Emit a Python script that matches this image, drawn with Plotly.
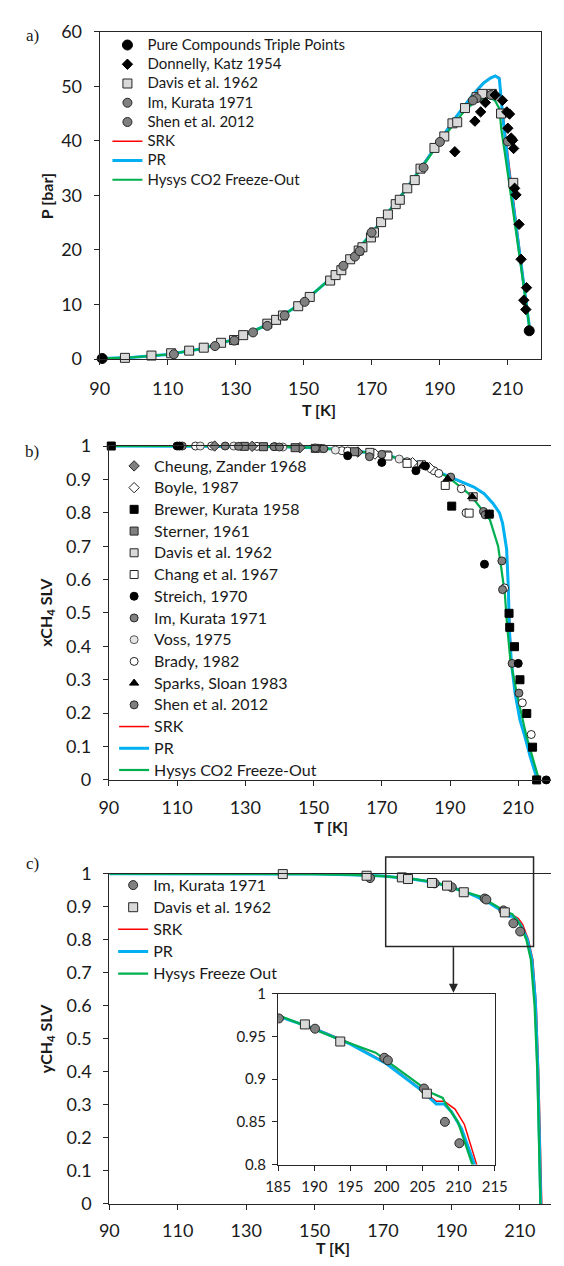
import plotly.graph_objects as go

W, H = 564, 1266
def fx(p): return p / W
def fy(p): return 1 - p / H

RED, BLUE, GREEN = "#FF0000", "#00B0F0", "#00B050"
EDGE = "#262626"
FONT = "Lato"

# ---------------- Panel a data: P [bar] vs T [K] ----------------
a_triple_T = [90.7, 216.4]
a_triple_P = [0.12, 5.2]
a_donnelly_T = [194.5, 200.4, 202.1, 203.5, 206.4, 208.5, 209.8, 210.6, 210.1, 211.1, 211.5, 211.8,
                212.1, 212.5, 213.4, 214.0, 215.6, 214.8, 215.4]
a_donnelly_P = [38.0, 43.6, 45.3, 47.0, 48.4, 47.4, 45.3, 44.9, 42.3, 40.5, 40.1, 38.6,
                31.3, 30.1, 24.7, 18.3, 13.1, 10.8, 9.1]
a_davis_T = [97.4, 105.2, 111.0, 116.3, 120.6, 125.7, 129.5, 132.2, 139.3, 141.9, 143.9, 148.4, 151.8,
             157.8, 159.4, 161.1, 163.7, 166.2, 167.3, 169.8, 170.7, 172.8, 174.8, 177.1, 178.3,
             180.5, 182.7, 184.4, 188.5, 191.4, 193.8, 195.2, 197.5, 200.9, 202.6, 205.4, 208.1, 211.7]
a_davis_P = [0.24, 0.66, 1.08, 1.56, 2.1, 3.0, 3.5, 4.4, 6.5, 7.2, 8.0, 9.7, 11.4,
             14.4, 15.4, 16.3, 18.3, 19.9, 20.5, 22.3, 23.2, 25.1, 26.5, 28.4, 29.2,
             31.3, 32.8, 34.9, 38.7, 40.8, 43.2, 43.4, 46.0, 48.0, 48.6, 48.6, 45.0, 32.3]
a_im_T = [129.6, 139.3, 150.3, 165.1, 170.0, 185.3, 190.1, 200.9, 205.2]
a_im_P = [3.4, 6.1, 10.5, 18.8, 23.2, 35.1, 39.8, 47.8, 48.4]
a_shen_T = [111.8, 123.9, 135.1, 144.4, 161.7, 166.5, 199.8, 210.1]
a_shen_P = [0.9, 2.4, 4.9, 8.0, 17.1, 19.8, 47.4, 39.9]

a_pr_T = [90.7, 100, 110, 120, 130, 140, 150, 160, 170, 175, 180, 185, 190, 195, 200, 203, 205,
          206.4, 207.6, 208.1, 208.6, 210.6, 213.5, 216.6]
a_pr_P = [0.12, 0.35, 0.85, 1.9, 3.7, 6.5, 10.5, 15.9, 23.0, 26.9, 31.0, 35.4, 40.0, 44.5, 48.6, 50.6, 51.5,
          51.9, 51.4, 48.0, 44.5, 33.4, 19.5, 5.2]
a_srk_T = a_pr_T
a_srk_P = [0.12, 0.35, 0.85, 1.9, 3.7, 6.5, 10.5, 15.9, 23.0, 26.9, 31.1, 35.5, 40.1, 44.6, 48.7, 50.7, 51.6,
           51.9, 51.6, 48.5, 45.5, 35.0, 21.0, 5.2]
a_hys_T = [90.7, 100, 110, 120, 130, 140, 150, 160, 170, 175, 180, 185, 190, 195, 197.5, 200, 202,
           203.9, 205.5, 206.4, 207.6, 208.2, 209.5, 213.5, 216.6]
a_hys_P = [0.12, 0.35, 0.85, 1.9, 3.7, 6.5, 10.5, 15.9, 23.0, 26.9, 31.0, 35.3, 39.7, 43.7, 45.6, 46.9, 47.6,
           47.9, 47.7, 47.3, 45.9, 42.0, 36.6, 19.0, 5.2]

# ---------------- Panel b data: xCH4 SLV vs T ----------------
b_cheung_T = [121.0, 132.0, 146.0, 163.0]
b_cheung_X = [1.0, 0.999, 0.995, 0.982]
b_boyle_T = [168.0, 179.0, 184.0]
b_boyle_X = [0.976, 0.950, 0.935]
b_brewer_T = [90.7, 190.5, 201.5, 207.3, 207.5, 208.9, 210.5, 212.5, 214.2, 215.4]
b_brewer_X = [1.0, 0.820, 0.796, 0.499, 0.457, 0.399, 0.300, 0.199, 0.098, 0.0]
b_sterner_T = [129.7, 135.3, 144.6, 150.5, 162.0]
b_sterner_X = [0.999, 0.998, 0.995, 0.993, 0.983]
b_davis_T = [166.5, 171.5, 181.6, 196.8]
b_davis_X = [0.981, 0.973, 0.944, 0.848]
b_chang_T = [171.8, 177.4, 188.6, 195.6]
b_chang_X = [0.970, 0.948, 0.882, 0.799]
b_streich_T = [110.0, 110.7, 160.0, 170.0, 180.0, 182.8, 200.1, 210.0, 218.2]
b_streich_X = [1.0, 1.0, 0.971, 0.951, 0.926, 0.940, 0.646, 0.349, 0.0]
b_im_T = [111.5, 124.1, 128.0, 138.4, 150.5, 166.4, 190.2, 199.8, 205.2, 205.4, 208.2]
b_im_X = [1.0, 1.0, 0.999, 0.998, 0.994, 0.968, 0.907, 0.804, 0.656, 0.570, 0.349]
b_voss_T = [116.8, 126.6, 141.0, 156.4, 175.1]
b_voss_X = [1.0, 1.0, 0.997, 0.988, 0.961]
b_brady_T = [115.4, 120.1, 133.4, 138.7, 152.2, 158.3, 160.0, 177.4, 185.3, 186.7, 193.3, 194.7,
             206.0, 211.2, 213.8]
b_brady_X = [1.0, 1.0, 0.999, 0.998, 0.993, 0.986, 0.985, 0.953, 0.926, 0.918, 0.872, 0.800,
             0.575, 0.231, 0.136]
b_sparks_T = [182.0, 189.3, 196.5, 201.5]
b_sparks_X = [0.942, 0.902, 0.848, 0.797]
b_shen_T = [140.0, 153.0, 170.0, 200.3, 210.2]
b_shen_X = [0.997, 0.992, 0.975, 0.794, 0.260]

b_pr_T = [90, 120, 140, 150, 160, 170, 180, 187.7, 193, 197, 200, 202.6, 204.5, 205.4, 206.6, 207.1,
          207.4, 208.0, 209.1, 210.5, 211.9, 213.5, 215.6]
b_pr_X = [1.0, 1.0, 0.998, 0.995, 0.988, 0.975, 0.952, 0.917, 0.895, 0.877, 0.857, 0.828, 0.800, 0.769,
          0.691, 0.573, 0.45, 0.35, 0.258, 0.18, 0.131, 0.07, 0.0]
b_srk_T = b_pr_T
b_srk_X = [1.0, 1.0, 0.998, 0.995, 0.988, 0.975, 0.952, 0.916, 0.894, 0.876, 0.856, 0.827, 0.799, 0.768,
           0.690, 0.572, 0.45, 0.35, 0.258, 0.18, 0.131, 0.07, 0.0]
b_hys_T = [90, 130, 150, 160, 170, 180, 189.5, 196, 201.7, 204.1, 205.2, 206.1, 206.8, 207.7, 209.6,
           212.4, 216.1]
b_hys_X = [1.0, 1.0, 0.995, 0.988, 0.975, 0.951, 0.907, 0.853, 0.779, 0.700, 0.622, 0.553, 0.455, 0.357,
           0.258, 0.131, 0.0]

# ---------------- Panel c data: yCH4 SLV vs T ----------------
c_im_T = [166.2, 185.1, 190.1, 199.7, 200.2, 205.2, 208.1, 210.1]
c_im_Y = [0.987, 0.971, 0.959, 0.925, 0.922, 0.889, 0.850, 0.825]
c_davis_T = [140.7, 165.2, 175.5, 177.3, 184.3, 188.7, 193.6, 205.6]
c_davis_Y = [0.999, 0.994, 0.989, 0.984, 0.972, 0.964, 0.944, 0.883]

c_pr_T = [90, 120, 140, 150, 160, 170, 178, 185, 190, 195, 200, 205, 206.9, 208, 209, 210.4, 212.2,
          213.5, 214.5, 215.2, 215.7, 216.1]
c_pr_Y = [1.0, 1.0, 1.0, 0.999, 0.997, 0.993, 0.985, 0.9735, 0.959, 0.941, 0.918, 0.886, 0.871, 0.871,
          0.862, 0.842, 0.80, 0.74, 0.62, 0.42, 0.2, 0.0]
c_srk_T = [90, 120, 140, 150, 160, 170, 178, 185, 190, 195, 200, 205, 206.9, 208, 209.5, 210.8, 212.5,
           213.8, 214.8, 215.5, 216.0, 216.4]
c_srk_Y = [1.0, 1.0, 1.0, 0.999, 0.997, 0.993, 0.985, 0.9738, 0.960, 0.942, 0.919, 0.887, 0.874, 0.874,
           0.865, 0.847, 0.80, 0.74, 0.60, 0.40, 0.2, 0.0]
c_hys_T = [90, 120, 140, 150, 160, 170, 178, 185.1, 193.6, 198.5, 204.9, 205.95, 207.8, 208.2, 209.9,
           211.9, 213.2, 214.3, 215.1, 215.6, 216.0]
c_hys_Y = [1.0, 1.0, 1.0, 0.999, 0.997, 0.993, 0.985, 0.9745, 0.946, 0.931, 0.891, 0.885, 0.878, 0.871,
           0.850, 0.80, 0.74, 0.60, 0.40, 0.2, 0.0]

fig = go.Figure()

LEG_TXT = {"legend": 15, "legend2": 16, "legend3": 16}

def lbl(name, leg):
    return f'<span style="font-size:{LEG_TXT[leg]}px">{name}</span>'

def line(x, y, color, width, name, xa, ya, leg, rank, show=True):
    fig.add_trace(go.Scatter(x=x, y=y, mode="lines", name=lbl(name, leg), line=dict(color=color, width=width),
                             xaxis=xa, yaxis=ya, legend=leg, legendrank=rank, showlegend=show))

def pts(x, y, symbol, fill, name, xa, ya, leg, rank, size=9, edge=EDGE, show=True):
    fig.add_trace(go.Scatter(x=x, y=y, mode="markers", name=lbl(name, leg),
                             marker=dict(symbol=symbol, color=fill, size=size,
                                         line=dict(color=edge, width=1)),
                             cliponaxis=False,
                             xaxis=xa, yaxis=ya, legend=leg, legendrank=rank, showlegend=show))

# Panel a
line(a_srk_T, a_srk_P, RED, 1.5, "SRK", "x", "y", "legend", 6)
line(a_pr_T, a_pr_P, BLUE, 3, "PR", "x", "y", "legend", 7)
line(a_hys_T, a_hys_P, GREEN, 2.2, "Hysys CO2 Freeze-Out", "x", "y", "legend", 8)
pts(a_davis_T, a_davis_P, "square", "#D9D9D9", "Davis et al. 1962", "x", "y", "legend", 3)
pts(a_im_T, a_im_P, "circle", "#808080", "Im, Kurata 1971", "x", "y", "legend", 4)
pts(a_shen_T, a_shen_P, "circle", "#808080", "Shen et al. 2012", "x", "y", "legend", 5)
pts(a_donnelly_T, a_donnelly_P, "diamond", "#000000", "Donnelly, Katz 1954", "x", "y", "legend", 2, size=8, edge="#000")
pts(a_triple_T, a_triple_P, "circle", "#000000", "Pure Compounds Triple Points", "x", "y", "legend", 1, size=10, edge="#000")

# Panel b
line(b_srk_T, b_srk_X, RED, 1.5, "SRK", "x2", "y2", "legend2", 13)
line(b_pr_T, b_pr_X, BLUE, 3, "PR", "x2", "y2", "legend2", 14)
line(b_hys_T, b_hys_X, GREEN, 2.2, "Hysys CO2 Freeze-Out", "x2", "y2", "legend2", 15)
bs = 8
pts(b_brady_T, b_brady_X, "circle", "#FFFFFF", "Brady, 1982", "x2", "y2", "legend2", 10, size=bs)
pts(b_voss_T, b_voss_X, "circle", "#E6E6E6", "Voss, 1975", "x2", "y2", "legend2", 9, size=bs, edge="#555")
pts(b_cheung_T, b_cheung_X, "diamond", "#808080", "Cheung, Zander 1968", "x2", "y2", "legend2", 1, size=bs)
pts(b_boyle_T, b_boyle_X, "diamond", "#FFFFFF", "Boyle, 1987", "x2", "y2", "legend2", 2, size=bs)
pts(b_sterner_T, b_sterner_X, "square", "#808080", "Sterner, 1961", "x2", "y2", "legend2", 4, size=bs)
pts(b_davis_T, b_davis_X, "square", "#D9D9D9", "Davis et al. 1962", "x2", "y2", "legend2", 5, size=bs)
pts(b_chang_T, b_chang_X, "square", "#FFFFFF", "Chang et al. 1967", "x2", "y2", "legend2", 6, size=bs)
pts(b_im_T, b_im_X, "circle", "#808080", "Im, Kurata 1971", "x2", "y2", "legend2", 8, size=bs)
pts(b_shen_T, b_shen_X, "circle", "#808080", "Shen et al. 2012", "x2", "y2", "legend2", 12, size=bs)
pts(b_sparks_T, b_sparks_X, "triangle-up", "#000000", "Sparks, Sloan 1983", "x2", "y2", "legend2", 11, size=bs, edge="#000")
pts(b_brewer_T, b_brewer_X, "square", "#000000", "Brewer, Kurata 1958", "x2", "y2", "legend2", 3, size=bs, edge="#000")
pts(b_streich_T, b_streich_X, "circle", "#000000", "Streich, 1970", "x2", "y2", "legend2", 7, size=bs, edge="#000")

# Panel c (main)
line(c_srk_T, c_srk_Y, RED, 1.5, "SRK", "x3", "y3", "legend3", 3)
line(c_pr_T, c_pr_Y, BLUE, 3, "PR", "x3", "y3", "legend3", 4)
line(c_hys_T, c_hys_Y, GREEN, 2.2, "Hysys Freeze Out", "x3", "y3", "legend3", 5)
pts(c_im_T, c_im_Y, "circle", "#808080", "Im, Kurata 1971", "x3", "y3", "legend3", 1)
pts(c_davis_T, c_davis_Y, "square", "#D9D9D9", "Davis et al. 1962", "x3", "y3", "legend3", 2)

# Panel c inset
line(c_srk_T, c_srk_Y, RED, 1.5, "SRK", "x4", "y4", "legend3", 3, show=False)
line(c_pr_T, c_pr_Y, BLUE, 3, "PR", "x4", "y4", "legend3", 4, show=False)
line(c_hys_T, c_hys_Y, GREEN, 2.2, "Hysys Freeze Out", "x4", "y4", "legend3", 5, show=False)
fig.add_trace(go.Scatter(x=c_im_T, y=c_im_Y, mode="markers", showlegend=False, xaxis="x4", yaxis="y4",
                         marker=dict(symbol="circle", color="#808080", size=9, line=dict(color=EDGE, width=1))))
fig.add_trace(go.Scatter(x=c_davis_T, y=c_davis_Y, mode="markers", showlegend=False, xaxis="x4", yaxis="y4",
                         marker=dict(symbol="square", color="#D9D9D9", size=9, line=dict(color=EDGE, width=1))))

tickfont = dict(family=FONT, size=18, color="#1a1a1a")
def xax(dom, rng, dtick, anchor, mirror=True, tf=tickfont, standoff=7):
    return dict(domain=dom, range=rng, dtick=dtick, tick0=rng[0] if dtick != 5 else 185, anchor=anchor,
                showline=True, linecolor=EDGE, linewidth=1.3, mirror=mirror, ticks="outside",
                ticklen=5, tickcolor=EDGE, showgrid=False, zeroline=False, tickfont=tf,
                ticklabelstandoff=standoff)
def yax(dom, rng, dtick, anchor, mirror=False, tf=tickfont, standoff=8):
    return dict(domain=dom, range=rng, dtick=dtick, anchor=anchor,
                showline=True, linecolor=EDGE, linewidth=1.3, mirror=mirror, ticks="outside",
                ticklen=5, tickcolor=EDGE, showgrid=False, zeroline=False, tickfont=tf,
                ticklabelstandoff=standoff)

insetfont = dict(family=FONT, size=15, color="#1a1a1a")
fig.update_layout(
    width=W, height=H, margin=dict(l=0, r=0, t=0, b=0),
    paper_bgcolor="white", plot_bgcolor="rgba(0,0,0,0)",
    xaxis=xax([fx(91), fx(554)], [90, 220], 20, "y", standoff=8),
    yaxis=yax([fy(353.3), fy(20)], [0, 60], 10, "x", mirror=True),
    xaxis2=xax([fx(100.5), 1], [90, 219.6], 20, "y2", standoff=6),
    yaxis2=yax([fy(781.5), fy(441.7)], [0, 1], 0.1, "x2"),
    xaxis3=xax([fx(101), 1], [90, 219.1], 20, "y3", standoff=5),
    yaxis3=yax([fy(1213), fy(877)], [0, 1], 0.1, "x3"),
    xaxis4=xax([fx(278), fx(505)], [185, 215], 5, "y4", tf=insetfont, standoff=3),
    yaxis4=yax([fy(1173), fy(999)], [0.8, 1], 0.05, "x4", mirror=True, tf=insetfont, standoff=3),
    legend=dict(x=fx(99), y=fy(18.7), xanchor="left", yanchor="top", bgcolor="rgba(0,0,0,0)",
                font=dict(family=FONT, size=12.5, color="#1a1a1a"), traceorder="normal"),
    legend2=dict(x=fx(106), y=fy(445.8), xanchor="left", yanchor="top", bgcolor="rgba(0,0,0,0)",
                 font=dict(family=FONT, size=14.4, color="#1a1a1a"), traceorder="normal"),
    legend3=dict(x=fx(105), y=fy(872.2), xanchor="left", yanchor="top", bgcolor="rgba(0,0,0,0)",
                 font=dict(family=FONT, size=14.7, color="#1a1a1a"), traceorder="normal"),
    showlegend=True,
)

# rectangle and arrow in panel c
fig.add_shape(type="rect", xref="paper", yref="paper", x0=fx(390.7), x1=fx(545.7), y0=fy(951), y1=fy(860),
              line=dict(color=EDGE, width=1.5))
fig.add_annotation(xref="paper", yref="paper", x=fx(461.7), y=fy(998), ax=0, ay=-47, text="",
                   showarrow=True, arrowhead=2, arrowsize=1.2, arrowwidth=1.5, arrowcolor=EDGE)

def ann(text, x, y, size=16, bold=False, angle=0, family=FONT):
    fig.add_annotation(xref="paper", yref="paper", x=fx(x), y=fy(y), text=f"<b>{text}</b>" if bold else text,
                       showarrow=False, textangle=angle, xanchor="center", yanchor="middle",
                       font=dict(family=family, size=size, color="#1a1a1a"))

ann("a)", 20, 24, size=17, family="Liberation Serif")
ann("b)", 20, 447, size=17, family="Liberation Serif")
ann("c)", 20, 867, size=17, family="Liberation Serif")
ann("P [bar]", 35, 187, size=16, bold=True, angle=-90)
ann("xCH<sub>4</sub> SLV", 35, 611, size=16, bold=True, angle=-90)
ann("yCH<sub>4</sub> SLV", 35, 1045, size=16, bold=True, angle=-90)
ann("T [K]", 321, 405, size=16, bold=True)
ann("T [K]", 333, 829, size=16, bold=True)
ann("T [K]", 335, 1257, size=16, bold=True)

fig.write_html("out.html")
